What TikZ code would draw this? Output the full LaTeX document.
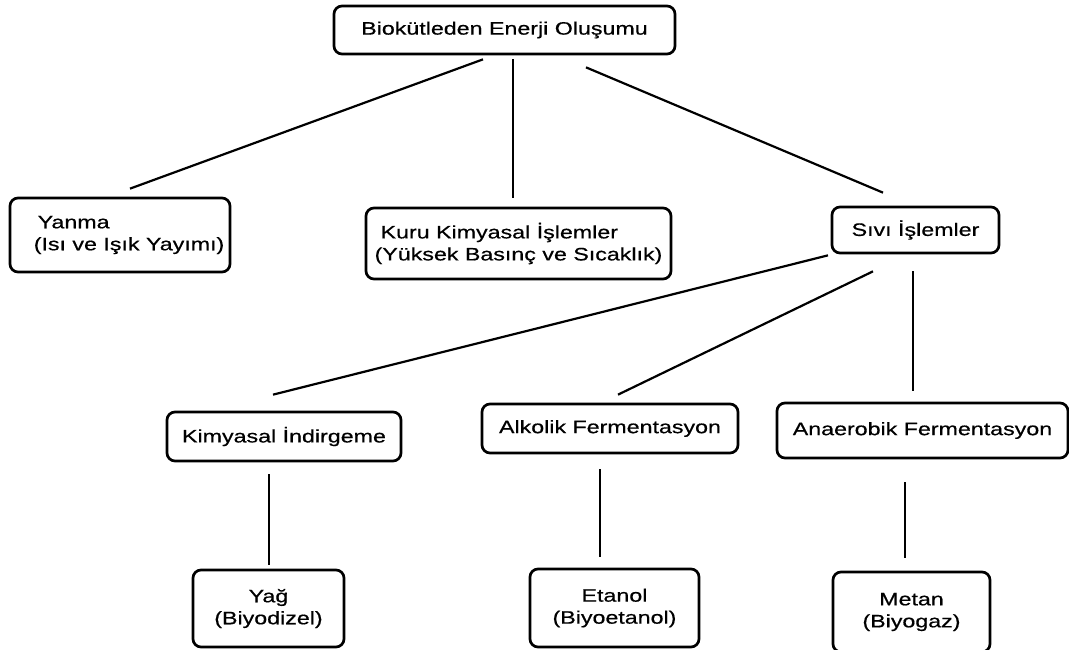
\documentclass[tikz,border=0pt]{standalone}
\usepackage{fontspec}
\setmainfont{Liberation Sans}[FakeStretch=1.29,FakeBold=0.6]
\usetikzlibrary{calc}
\begin{document}
\begin{tikzpicture}[x=1pt,y=-1pt,
  box/.style={draw, line width=2.7pt, rounded corners=8pt, inner sep=0pt,
              font=\fontsize{18}{22}\selectfont, align=center},
  link/.style={line width=2.2pt}]
\useasboundingbox (0,0) rectangle (1069,650);
% boxes
\node[box, minimum width=341pt, minimum height=48pt] (top) at (504.5,30) {Biokütleden Enerji Oluşumu};
\node[box, align=left, minimum width=220pt, minimum height=74pt] (yanma) at (120,235) {\hspace*{22pt}Yanma\\\hspace*{18pt}(Isı ve Işık Yayımı)};
\node[box, align=left, minimum width=305pt, minimum height=71pt] (kuru) at (518.5,243.5) {\hspace*{6pt}Kuru Kimyasal İşlemler\\(Yüksek Basınç ve Sıcaklık)};
\node[box, minimum width=167pt, minimum height=46pt] (sivi) at (915.5,230) {Sıvı İşlemler};
\node[box, minimum width=234pt, minimum height=49pt] (kimya) at (284,436.5) {Kimyasal İndirgeme};
\node[box, minimum width=256pt, minimum height=49pt] (alkol) at (610,428.5) {Alkolik Fermentasyon};
\node[box, minimum width=291pt, minimum height=55pt] (anaer) at (922.5,430.5) {Anaerobik Fermentasyon};
\node[box, minimum width=151pt, minimum height=77pt] (yag) at (268.5,608.5) {Yağ\\(Biyodizel)};
\node[box, minimum width=169pt, minimum height=78pt] (etanol) at (614.5,608) {Etanol\\(Biyoetanol)};
\node[box, minimum width=157pt, minimum height=80pt] (metan) at (911.5,612) {Metan\\(Biyogaz)};
% connectors
\draw[link] ($(top.south)+(-21.5,4)$) -- ($(yanma.north)+(10,-8)$);
\draw[link] ($(top.south)+(8.5,4)$) -- ($(kuru.north)+(-5.5,-9)$);
\draw[link] ($(top.south)+(81.5,12)$) -- ($(sivi.north)+(-32.5,-13)$);
\draw[link] ($(sivi.south)+(-87.5,1)$) -- ($(kimya.north)+(-11,-16)$);
\draw[link] ($(sivi.south)+(-42.5,17)$) -- ($(alkol.north)+(8,-8)$);
\draw[link] ($(sivi.south)+(-2.5,17)$) -- ($(anaer.north)+(-9.5,-11)$);
\draw[link] ($(kimya.south)+(-15,12)$) -- ($(yag.north)+(0.5,-4)$);
\draw[link] ($(alkol.south)+(-10,15)$) -- ($(etanol.north)+(-14.5,-11)$);
\draw[link] ($(anaer.south)+(-17.5,23)$) -- ($(metan.north)+(-6.5,-13)$);
\end{tikzpicture}
\end{document}
